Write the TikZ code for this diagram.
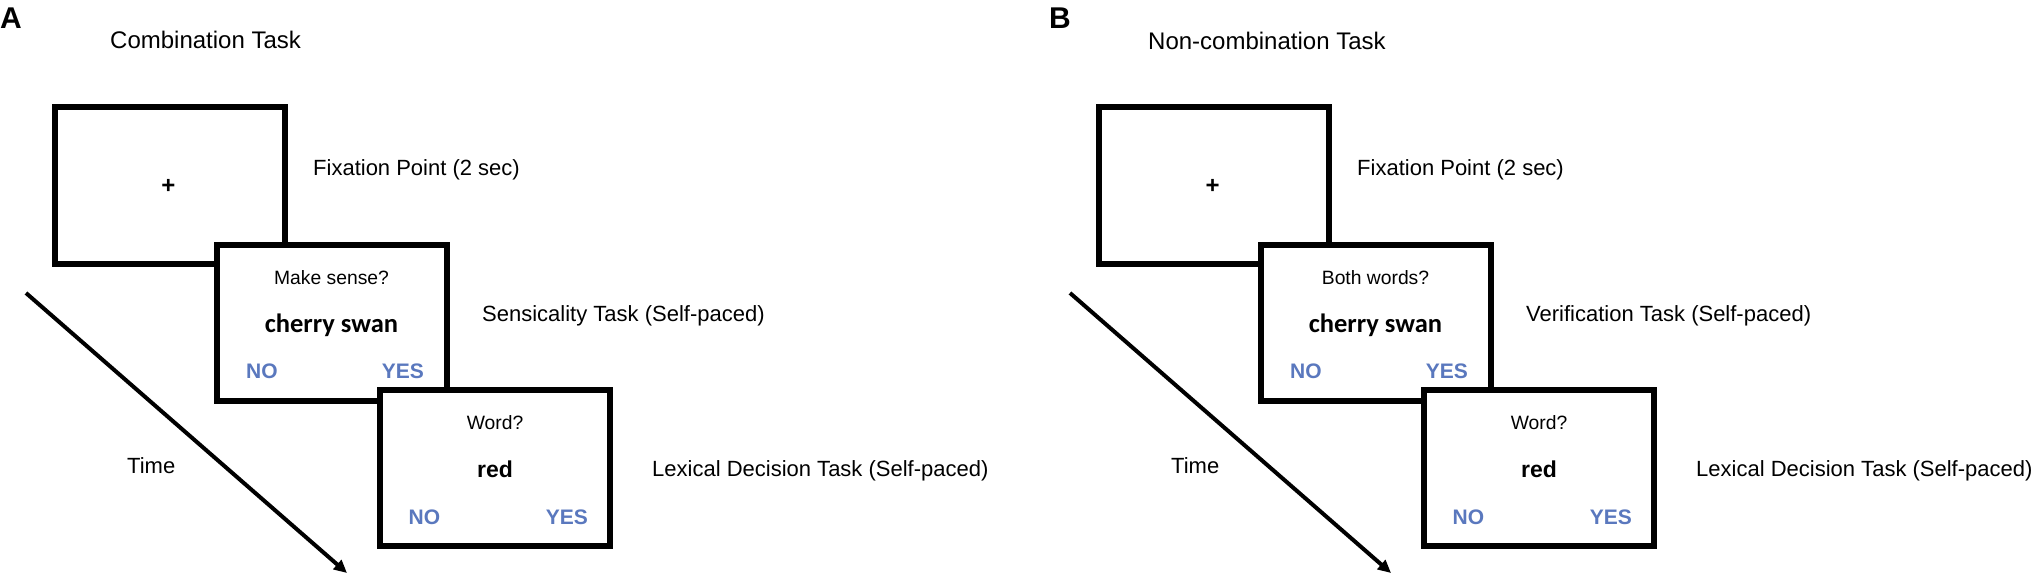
\documentclass[tikz,border=0pt]{standalone}
\usepackage{fontspec}
\setmainfont{Liberation Sans}
\newfontfamily\calibfont{Carlito}
\usetikzlibrary{calc,arrows.meta}
\definecolor{respblue}{RGB}{90,120,190}
\tikzset{
  lab/.style={font=\fontsize{22}{26}\selectfont, anchor=base west, inner sep=0pt},
  ttl/.style={font=\fontsize{24}{28}\selectfont, anchor=base west, inner sep=0pt},
  panellet/.style={font=\bfseries\fontsize{30}{34}\selectfont, anchor=base west, inner sep=0pt},
  screen/.style={draw=black, line width=6pt, fill=white, minimum width=230pt, minimum height=156pt, inner sep=0pt},
  quest/.style={font=\fontsize{19.3}{22}\selectfont, anchor=base, inner sep=0pt},
  stimc/.style={font=\calibfont\bfseries\fontsize{26.5}{30}\selectfont, anchor=base, inner sep=0pt},
  stima/.style={font=\bfseries\fontsize{23}{27}\selectfont, anchor=base, inner sep=0pt},
  respno/.style={font=\bfseries\fontsize{21}{24}\selectfont, text=respblue, anchor=base west, inner sep=0pt},
  respyes/.style={font=\bfseries\fontsize{21}{24}\selectfont, text=respblue, anchor=base east, inner sep=0pt},
  fixmark/.style={font=\bfseries\fontsize{24}{28}\selectfont, inner sep=0pt},
  timearrow/.style={line width=4pt, -{Triangle[length=13pt,width=12pt]}},
}
\begin{document}
\begin{tikzpicture}[x=1pt,y=-1pt]
\useasboundingbox (0,0) rectangle (2033,575);
% ---------------- Panel A ----------------
\node[panellet] (aL) at (0,28.5) {A};
\node[ttl] (aT) at (110,49) {Combination Task};
\node[screen] (a1) at (169.5,185.5) {};
\node[fixmark] (a1p) at (168.5,186) {+};
\node[lab] (a1l) at (313,175.5) {Fixation Point (2 sec)};
\node[screen] (a2) at (331.5,323) {};
\node[quest] (a2q) at ($(a2.center)+(0,-38.5)$) {Make sense?};
\node[stimc] (a2s) at ($(a2.center)+(0,9)$) {cherry swan};
\node[respno] (a2n) at ($(a2.center)+(-85.5,55)$) {NO};
\node[respyes] (a2y) at ($(a2.center)+(92.5,55)$) {YES};
\node[lab] (a2l) at (482,321.5) {Sensicality Task (Self-paced)};
\node[screen] (a3) at (495,468) {};
\node[quest] (a3q) at ($(a3.center)+(0,-38.5)$) {Word?};
\node[stima] (a3s) at ($(a3.center)+(0,9)$) {red};
\node[respno] (a3n) at ($(a3.center)+(-86.5,56)$) {NO};
\node[respyes] (a3y) at ($(a3.center)+(93,56)$) {YES};
\node[lab] (a3l) at (652,476) {Lexical Decision Task (Self-paced)};
\coordinate (at0) at (26,293);
\coordinate (at1) at (347,573);
\draw[timearrow] (at0) -- (at1);
\node[lab] (atl) at (127,473) {Time};
% ---------------- Panel B ----------------
\begin{scope}[xshift=1044pt]
\node[ttl] (bT) at (104,49.5) {Non-combination Task};
\node[screen] (b1) at (169.5,185.5) {};
\node[fixmark] (b1p) at (168.5,186) {+};
\node[lab] (b1l) at (313,175.5) {Fixation Point (2 sec)};
\node[screen] (b2) at (331.5,323) {};
\node[quest] (b2q) at ($(b2.center)+(0,-38.5)$) {Both words?};
\node[stimc] (b2s) at ($(b2.center)+(0,9)$) {cherry swan};
\node[respno] (b2n) at ($(b2.center)+(-85.5,55)$) {NO};
\node[respyes] (b2y) at ($(b2.center)+(92.5,55)$) {YES};
\node[lab] (b2l) at (482,321.5) {Verification Task (Self-paced)};
\node[screen] (b3) at (495,468) {};
\node[quest] (b3q) at ($(b3.center)+(0,-38.5)$) {Word?};
\node[stima] (b3s) at ($(b3.center)+(0,9)$) {red};
\node[respno] (b3n) at ($(b3.center)+(-86.5,56)$) {NO};
\node[respyes] (b3y) at ($(b3.center)+(93,56)$) {YES};
\node[lab] (b3l) at (652,476) {Lexical Decision Task (Self-paced)};
\coordinate (bt0) at (26,293);
\coordinate (bt1) at (347,573);
\draw[timearrow] (bt0) -- (bt1);
\node[lab] (btl) at (127,473) {Time};
\end{scope}
\node[panellet] (bL) at (1049,28.5) {B};
\end{tikzpicture}
\end{document}
